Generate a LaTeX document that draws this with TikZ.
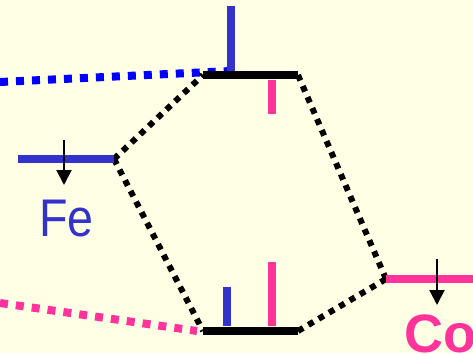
\documentclass[tikz,border=0pt]{standalone}
\usepackage{fontspec}
\setmainfont{Liberation Sans}
\usetikzlibrary{arrows.meta}
\definecolor{bgyellow}{RGB}{255,255,230}
\definecolor{feblue}{RGB}{51,51,204}
\definecolor{copink}{RGB}{255,51,153}

\begin{document}
\begin{tikzpicture}[x=1pt, y=-1pt,
  level/.style={line width=8pt},
  spin/.style={line width=8pt},
  mixing/.style={line width=6pt, dash pattern=on 6pt off 6pt},
  atomic/.style={line width=8pt, dash pattern=on 8pt off 8pt},
  elec/.style={-{Triangle[width=15pt,length=15pt]}, line width=2pt}]
  \fill[bgyellow] (0,0) rectangle (473,353);
  \useasboundingbox (0,0) rectangle (473,353);

  \coordinate (feL) at (18,159);
  \coordinate (feR) at (114,159);
  \coordinate (coL) at (386,279);
  \coordinate (coR) at (473,279);
  \coordinate (upL) at (203,75);
  \coordinate (upR) at (298,75);
  \coordinate (dnL) at (203,331);
  \coordinate (dnR) at (298,331);
  \coordinate (feTail) at (0,82);
  \coordinate (coTail) at (0,303);
  \coordinate (upBlue) at (231,71);

  \foreach \a/\b in {feR/upL, feR/dnL, upR/coL, dnR/coL}{
    \draw[mixing] (\a) -- (\b);
  }
  \draw[atomic, blue] (feTail) -- (upBlue);
  \draw[atomic, copink] (coTail) -- ([xshift=-6pt]dnL);

  \draw[level, feblue] (feL) -- (feR);
  \draw[level, copink] (coL) -- (coR);
  \foreach \l in {up, dn}{
    \draw[level] (\l L) -- (\l R);
  }

  \draw[spin, feblue] (upBlue) -- ++(0,-65);
  \draw[spin, copink] (272,80) -- ++(0,34);
  \draw[spin, feblue] (227,326) -- ++(0,-39);
  \draw[spin, copink] (272,326) -- ++(0,-64);

  \draw[elec] (64,140) -- (64,185);
  \draw[elec] (437,259) -- (437,305);

  \node[font=\fontsize{53}{53}\selectfont, text=feblue, anchor=base west, inner sep=0pt,
    xscale=0.88, transform shape] (fe) at (39,236) {Fe};
  \node[font=\fontsize{54}{54}\selectfont\bfseries, text=copink, anchor=base west, inner sep=0pt]
    (co) at (404,352) {Co};
\end{tikzpicture}
\end{document}
